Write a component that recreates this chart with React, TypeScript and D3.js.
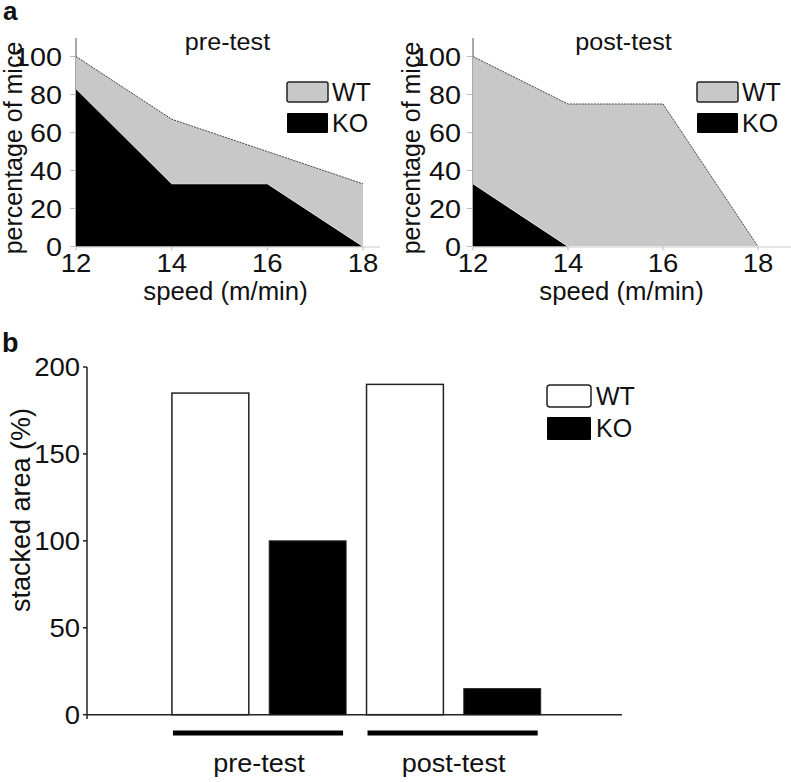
import React from "react";
import * as d3 from "d3";

const speeds = [12, 14, 16, 18];
const preWT = [100, 67, 50, 33];
const preKO = [83, 33, 33, 0];
const postWT = [100, 75, 75, 0];
const postKO = [33, 0, 0, 0];
const yTicksA = [0, 20, 40, 60, 80, 100];

const barGroups = ["pre-test", "post-test"];
const barWT = [185, 190];
const barKO = [100, 15];
const yTicksB = [0, 50, 100, 150, 200];

const FONT = "'Liberation Sans', Arial, Helvetica, sans-serif";
const GRAY = "#c8c8c8";

function SText(props: {
  x: number;
  y: number;
  size: number;
  sx?: number;
  anchor?: string;
  rotate?: number;
  weight?: string;
  children: React.ReactNode;
}) {
  const sx = props.sx ?? 1;
  const rot = props.rotate ? ` rotate(${props.rotate})` : "";
  return (
    <text
      transform={`translate(${props.x},${props.y})${rot} scale(${sx},1)`}
      textAnchor={props.anchor ?? "start"}
      fontSize={props.size}
      fontWeight={props.weight ?? "normal"}
      fontFamily={FONT}
      fill="#111"
    >
      {props.children}
    </text>
  );
}

type PanelProps = {
  title: string;
  wt: number[];
  ko: number[];
  x0: number;
  x1: number;
  axisEnd: number;
  labelRight: number;
  yLabelX: number;
  legendX: number;
};

function AreaPanel(p: PanelProps) {
  const x = d3.scaleLinear().domain([12, 18]).range([p.x0, p.x1]);
  const y = d3.scaleLinear().domain([0, 100]).range([246.5, 56.5]);
  const data = speeds.map((s, i) => ({ s, wt: p.wt[i], ko: p.ko[i] }));
  const areaWT = d3
    .area<any>()
    .x((d) => x(d.s))
    .y0(y(0))
    .y1((d) => y(d.wt));
  const lineWT = d3
    .line<any>()
    .x((d) => x(d.s))
    .y((d) => y(d.wt));
  const areaKO = d3
    .area<any>()
    .x((d) => x(d.s))
    .y0(y(0))
    .y1((d) => y(d.ko));
  const lineKO = d3
    .line<any>()
    .x((d) => x(d.s))
    .y((d) => y(d.ko));
  const midX = (p.x0 + p.x1) / 2;
  return (
    <g>
      <line x1={p.x0} x2={p.x0} y1={38} y2={y(0)} stroke="#555" strokeWidth={1} />
      <path d={areaWT(data) as string} fill={GRAY} />
      <path d={lineWT(data) as string} fill="none" stroke="#444" strokeWidth={1} strokeDasharray="2,1" />
      <path d={areaKO(data) as string} fill="#000" />
      <path d={lineKO(data) as string} fill="none" stroke="#fff" strokeWidth={0.8} />
      <line x1={p.x0} x2={p.axisEnd} y1={y(0) + 0.5} y2={y(0) + 0.5} stroke="#ccc" strokeWidth={1} />
      {yTicksA.map((t) => (
        <g key={t}>
          <line x1={p.x0 - 6} x2={p.x0 - 1} y1={y(t)} y2={y(t)} stroke="#bbb" strokeWidth={1} />
          <SText x={p.labelRight} y={y(t) + 9} size={25} sx={1.15} anchor="end">
            {t}
          </SText>
        </g>
      ))}
      {speeds.map((s) => (
        <g key={s}>
          <line x1={x(s)} x2={x(s)} y1={y(0)} y2={y(0) + 4} stroke="#bbb" strokeWidth={1} />
          <SText x={x(s)} y={272} size={25} sx={1.1} anchor="middle">
            {s}
          </SText>
        </g>
      ))}
      <SText x={midX + 6} y={300} size={25} sx={1.03} anchor="middle">
        speed (m/min)
      </SText>
      <SText x={midX + 8} y={50} size={24} sx={1.05} anchor="middle">
        {p.title}
      </SText>
      <SText x={p.yLabelX} y={148} size={25} rotate={-90} anchor="middle">
        percentage of mice
      </SText>
      <rect x={p.legendX} y={82} width={41} height={20} rx={2} fill={GRAY} stroke="#222" strokeWidth={1.5} />
      <SText x={p.legendX + 45} y={101} size={25}>
        WT
      </SText>
      <rect x={p.legendX} y={113} width={41} height={20} rx={1} fill="#000" />
      <SText x={p.legendX + 45} y={132} size={25}>
        KO
      </SText>
    </g>
  );
}

function BarPanel() {
  const y = d3.scaleLinear().domain([0, 200]).range([714.7, 367]);
  const keys: string[] = [];
  barGroups.forEach((g) => {
    keys.push(g + "-WT");
    keys.push(g + "-KO");
  });
  const x = d3.scaleBand<string>().domain(keys).range([161.7, 550.9]).paddingInner(0.21).paddingOuter(0.105);
  const bw = x.bandwidth();
  return (
    <g>
      <line x1={87} x2={87} y1={367} y2={719} stroke="#222" strokeWidth={1.5} />
      <line x1={87} x2={622} y1={y(0)} y2={y(0)} stroke="#222" strokeWidth={1.5} />
      {yTicksB.map((t) => (
        <g key={t}>
          <line x1={83} x2={87} y1={y(t)} y2={y(t)} stroke="#222" strokeWidth={1.5} />
          <SText x={80} y={y(t) + 9} size={25} sx={1.1} anchor="end">
            {t}
          </SText>
        </g>
      ))}
      {barGroups.map((g, i) => {
        const xw = x(g + "-WT") as number;
        const xk = x(g + "-KO") as number;
        return (
          <g key={g}>
            <rect x={xw} y={y(barWT[i])} width={bw} height={y(0) - y(barWT[i])} fill="#fff" stroke="#222" strokeWidth={1.5} />
            <rect x={xk} y={y(barKO[i])} width={bw} height={y(0) - y(barKO[i])} fill="#000" stroke="#222" strokeWidth={1} />
            <rect x={xw + 1} y={730.5} width={xk + bw - 4 - xw} height={5} fill="#000" />
            <SText x={(xw + xk + bw) / 2} y={772} size={26} sx={1.04} anchor="middle">
              {g}
            </SText>
          </g>
        );
      })}
      <SText x={30} y={510} size={27} rotate={-90} anchor="middle">
        stacked area (%)
      </SText>
      <rect x={547} y={385} width={44} height={22} rx={3} fill="#fff" stroke="#222" strokeWidth={1.5} />
      <SText x={596} y={405} size={25}>
        WT
      </SText>
      <rect x={547} y={417} width={44} height={23} rx={1} fill="#000" />
      <SText x={596} y={437} size={25}>
        KO
      </SText>
    </g>
  );
}

export default function App() {
  return (
    <svg
      width={791}
      height={782}
      viewBox="0 0 791 782"
      style={{ position: "absolute", left: 0, top: 0, background: "#fff" }}
    >
      <rect width={791} height={782} fill="#fff" />
      <SText x={3} y={20} size={26} weight="bold">
        a
      </SText>
      <SText x={2} y={352} size={27} weight="bold">
        b
      </SText>
      <AreaPanel
        title="pre-test"
        wt={preWT}
        ko={preKO}
        x0={76}
        x1={363}
        axisEnd={380}
        labelRight={62}
        yLabelX={22}
        legendX={287}
      />
      <AreaPanel
        title="post-test"
        wt={postWT}
        ko={postKO}
        x0={473}
        x1={758}
        axisEnd={791}
        labelRight={461}
        yLabelX={420}
        legendX={697}
      />
      <BarPanel />
    </svg>
  );
}
